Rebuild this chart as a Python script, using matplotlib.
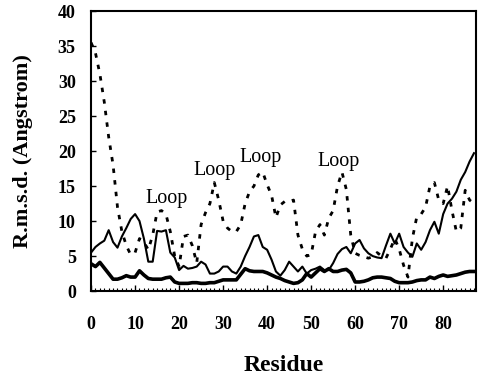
import numpy as np
import matplotlib
matplotlib.use('Agg')
import matplotlib.pyplot as plt

# %% DATA

residue = np.arange(0, 88)

# dotted series
rmsd_dot = [35.5, 34, 31, 27, 22, 18, 12, 8.5, 6.5, 5.2,
            5.5, 7.5, 7, 5.9, 8, 11.3, 11.5, 11, 8.5, 5,
            3.5, 7.8, 8, 6.5, 4, 9.5, 11.2, 12.5, 15.5, 13,
            10, 9, 8.5, 8.5, 9.5, 12.5, 14.2, 15, 16.6, 17,
            15.2, 13.7, 10.5, 12.3, 12.8, 12.8, 13, 8, 6, 5,
            5.2, 8.5, 9.5, 8, 10.4, 11.5, 15, 17, 14.5, 8,
            5.4, 5.1, 4.9, 4.7, 4.9, 5.5, 5, 4.7, 6, 7.5,
            6, 3.7, 2, 7.5, 10.6, 11, 12, 15, 15.5, 13,
            12.5, 15, 11.5, 8.5, 9, 14.4, 13, 12.5]

# thin solid series
rmsd_mid = [5.5, 6.3, 6.8, 7.2, 8.7, 7, 6.2, 7.8, 9, 10.3,
            11, 10, 7.5, 4.2, 4.2, 8.6, 8.5, 8.7, 5.5, 4.8,
            3, 3.6, 3.2, 3.3, 3.5, 4.2, 3.8, 2.5, 2.5, 2.8,
            3.5, 3.5, 2.8, 2.5, 3.5, 5, 6.3, 7.8, 8, 6.3,
            5.9, 4.5, 2.8, 2.2, 3, 4.2, 3.5, 2.8, 3.5, 2.5,
            3, 3.2, 3.5, 3, 3, 4, 5.3, 6, 6.3, 5.4,
            6.8, 7.3, 6.1, 5.4, 5, 4.8, 4.7, 6.5, 8.2, 6.8,
            8.2, 6.3, 5.5, 4.9, 6.8, 5.9, 7, 8.7, 9.9, 8.2,
            11, 12.5, 13.2, 14.2, 15.9, 17, 18.5, 19.7]

# thick solid series
rmsd_low = [3.9, 3.5, 4.1, 3.3, 2.5, 1.7, 1.7, 1.9, 2.2, 2,
            2, 2.9, 2.3, 1.8, 1.7, 1.7, 1.7, 1.9, 2, 1.3,
            1.1, 1.1, 1.1, 1.2, 1.2, 1.1, 1.1, 1.2, 1.2, 1.4,
            1.6, 1.6, 1.6, 1.6, 2.4, 3.2, 2.9, 2.8, 2.8, 2.8,
            2.6, 2.3, 2, 1.8, 1.5, 1.3, 1.1, 1.2, 1.6, 2.5,
            2, 2.6, 3.2, 2.8, 3.2, 2.8, 2.8, 3, 3.1, 2.6,
            1.3, 1.3, 1.4, 1.6, 1.9, 2, 2, 1.9, 1.8, 1.4,
            1.2, 1.2, 1.2, 1.3, 1.5, 1.6, 1.6, 2, 1.8, 2.1,
            2.3, 2.1, 2.2, 2.3, 2.5, 2.7, 2.8, 2.8]

# loop annotations (residue, rmsd)
loop_x = [17.2, 28.1, 38.5, 56.2]
loop_y = [12.6, 16.6, 18.4, 17.9]

# %% PLOT

serif = 'Liberation Serif'

fig = plt.figure(figsize=(4.95, 3.81), dpi=100)
ax = fig.add_axes([0.184, 0.236, 0.778, 0.735])

ax.plot(residue, rmsd_dot, color='k', lw=2.0, linestyle=(0, (1.6, 2.6)))
ax.plot(residue, rmsd_mid, color='k', lw=1.5)
ax.plot(residue, rmsd_low, color='k', lw=2.6)

for x, y in zip(loop_x, loop_y):
    ax.text(x, y, 'Loop', ha='center', va='baseline',
            fontsize=14.5, family=serif, color='k')

ax.set_xlim(0, 87.5)
ax.set_ylim(0, 40)
ax.set_xticks(np.arange(0, 81, 10))
ax.set_xticks(np.arange(0, 88, 1), minor=True)
ax.set_yticks(np.arange(0, 41, 5))

ax.tick_params(axis='x', which='major', direction='in', length=4.5, width=1, pad=18)
ax.tick_params(axis='x', which='minor', direction='in', length=2.3, width=0.8)
ax.tick_params(axis='y', which='major', direction='in', length=3.6, width=1, pad=11)

for lab in ax.get_xticklabels() + ax.get_yticklabels():
    lab.set_family(serif)
    lab.set_fontweight('bold')
    lab.set_fontsize(13)

for sp in ax.spines.values():
    sp.set_linewidth(1.5)

ax.set_xlabel('Residue', family=serif, fontweight='bold', fontsize=17, labelpad=16)
ax.set_ylabel('R.m.s.d. (Angstrom)', family=serif, fontweight='bold', fontsize=16, labelpad=18)

fig.savefig('out.png', dpi=100)
